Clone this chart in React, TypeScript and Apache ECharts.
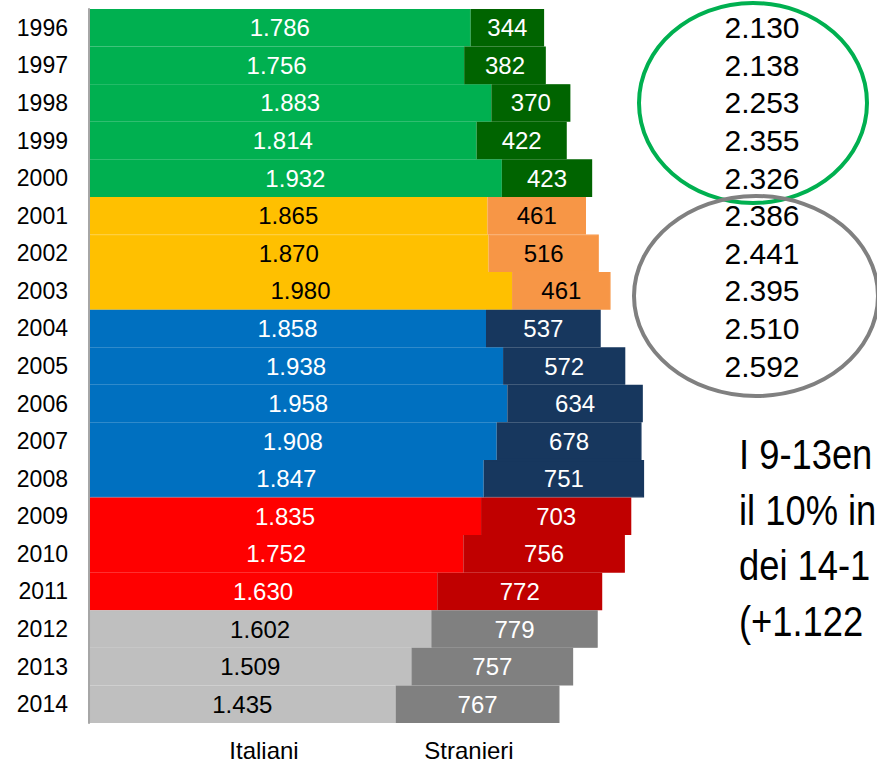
import React, { useEffect, useRef } from "react";
import * as echarts from "echarts";

const years = ["1996","1997","1998","1999","2000","2001","2002","2003","2004","2005","2006","2007","2008","2009","2010","2011","2012","2013","2014"];
const italiani = [1786,1756,1883,1814,1932,1865,1870,1980,1858,1938,1958,1908,1847,1835,1752,1630,1602,1509,1435];
const stranieri = [344,382,370,422,423,461,516,461,537,572,634,678,751,703,756,772,779,757,767];
const totali = ["2.130","2.138","2.253","2.355","2.326","2.386","2.441","2.395","2.510","2.592"];
const noteLines = ["I 9-13en", "il 10% in", "dei 14-1", "(+1.122"];
const seriesNames = ["Italiani", "Stranieri"];

// styling: period colours (index by year position)
const periodOf = (i: number) => (i < 5 ? 0 : i < 8 ? 1 : i < 13 ? 2 : i < 16 ? 3 : 4);
const itColors = ["#00B050", "#FFC000", "#0070C0", "#FF0000", "#BFBFBF"];
const stColors = ["#006400", "#F79646", "#17375E", "#C00000", "#808080"];
const itLabel = ["#FFFFFF", "#000000", "#FFFFFF", "#FFFFFF", "#000000"];
const stLabel = ["#FFFFFF", "#000000", "#FFFFFF", "#FFFFFF", "#FFFFFF"];

const FONT = '"Liberation Sans", Arial, sans-serif';

const fmt = (v: number) => {
  const t = Math.floor(v / 1000);
  const r = v % 1000;
  return t > 0 ? `${t}.${String(r).padStart(3, "0")}` : String(v);
};

export default function App() {
  const ref = useRef<HTMLDivElement>(null);
  useEffect(() => {
    if (!ref.current) return;
    const chart = echarts.init(ref.current, undefined, { renderer: "svg" });
    const labelBase = { show: true, position: "inside", fontSize: 24, fontFamily: FONT, formatter: (p: any) => fmt(p.value) };
    const item = (c: string) => ({ color: c, borderColor: c, borderWidth: 1.4 });
    chart.setOption({
      animation: false,
      textStyle: { fontFamily: FONT },
      grid: { left: 89, right: 147, top: 9, bottom: 40 },
      xAxis: { type: "value", min: 0, max: 3000, show: false },
      yAxis: [
        {
          type: "category",
          data: years,
          inverse: true,
          axisLine: { lineStyle: { color: "#A6A6A6", width: 2 } },
          axisTick: { length: 7, lineStyle: { color: "#A6A6A6", width: 2 } },
          axisLabel: { color: "#000", fontSize: 23, margin: 21, interval: 0, fontFamily: FONT },
          z: 3,
        },
        {
          type: "category",
          data: years,
          inverse: true,
          position: "right",
          axisLine: { show: false },
          axisTick: { show: false },
          axisLabel: {
            color: "#000",
            fontSize: 30,
            margin: 32,
            align: "center",
            interval: 0,
            fontFamily: FONT,
            formatter: (_v: string, idx: number) => totali[idx] ?? "",
          },
        },
      ],
      series: [
        {
          name: seriesNames[0],
          type: "bar",
          stack: "tot",
          barCategoryGap: "0%",
          data: italiani.map((v, i) => ({
            value: v,
            itemStyle: item(itColors[periodOf(i)]),
            label: { color: itLabel[periodOf(i)] },
          })),
          label: labelBase,
        },
        {
          name: seriesNames[1],
          type: "bar",
          stack: "tot",
          barCategoryGap: "0%",
          data: stranieri.map((v, i) => ({
            value: v,
            itemStyle: item(stColors[periodOf(i)]),
            label: { color: stLabel[periodOf(i)] },
          })),
          label: labelBase,
        },
      ],
      graphic: [
        {
          type: "ellipse",
          shape: { cx: 753, cy: 103, rx: 114, ry: 100 },
          style: { fill: "none", stroke: "#00B050", lineWidth: 4 },
          silent: true,
        },
        {
          type: "ellipse",
          shape: { cx: 756, cy: 296, rx: 122, ry: 100 },
          style: { fill: "none", stroke: "#808080", lineWidth: 4 },
          silent: true,
        },
        {
          type: "text",
          x: 264,
          y: 750,
          style: { text: seriesNames[0], fill: "#000", font: `24px ${FONT}`, align: "center", verticalAlign: "middle" },
        },
        {
          type: "text",
          x: 469,
          y: 750,
          style: { text: seriesNames[1], fill: "#000", font: `24px ${FONT}`, align: "center", verticalAlign: "middle" },
        },
        ...noteLines.map((t, i) => ({
          type: "text",
          x: 739,
          y: 454 + i * 55.5,
          scaleX: 0.845,
          style: { text: t, fill: "#000", font: `43px ${FONT}`, align: "left", verticalAlign: "middle" },
        })),
      ],
    });
    return () => chart.dispose();
  }, []);
  return <div ref={ref} style={{ position: "absolute", left: 0, top: 0, width: 877, height: 763 }} />;
}
